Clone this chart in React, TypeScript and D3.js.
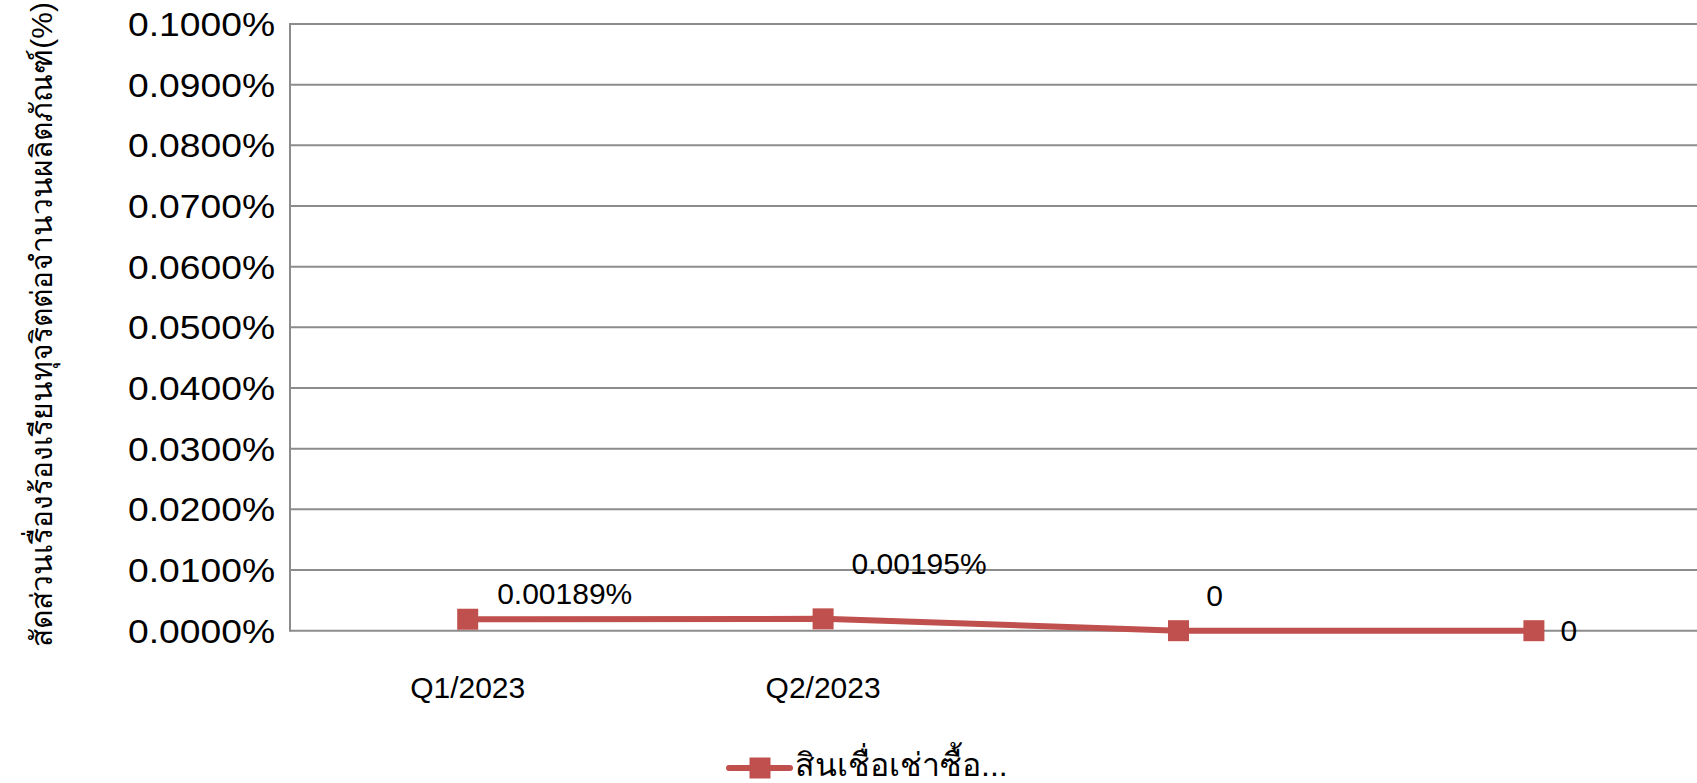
import React from "react";
import * as d3 from "d3";

const quarters = ["Q1/2023", "Q2/2023", "Q3/2023", "Q4/2023"];
const axisLabels = ["Q1/2023", "Q2/2023", "", ""];
const values = [0.00189, 0.00195, 0, 0];
const dataLabels = ["0.00189%", "0.00195%", "0", "0"];
const yTicks = [0, 0.01, 0.02, 0.03, 0.04, 0.05, 0.06, 0.07, 0.08, 0.09, 0.1];
const seriesName = "สินเชื่อเช่าซื้อ...";
const yTitle = "สัดส่วนเรื่องร้องเรียนทุจริตต่อจำนวนผลิตภัณฑ์(%)";

const labelOffsets: [number, number][] = [
  [97, -26],
  [96, -55],
  [36, -35],
  [35, 0],
];

const W = 1697;
const H = 783;
const left = 290;
const top = 24;
const bottom = 630.7;
const step = 355.4;
const color = "#C0504D";
const grid = "#8c8c8c";
const font = "'Liberation Sans', Arial, sans-serif";

export default function App() {
  const x = d3.scaleBand<string>().domain(quarters).range([left, left + step * quarters.length]);
  const y = d3.scaleLinear().domain([0, 0.1]).range([bottom, top]);
  const cx = (q: string) => (x(q) as number) + x.bandwidth() / 2;
  const line = d3
    .line<number>()
    .x((_, i) => cx(quarters[i]))
    .y((d) => y(d));
  const ms = 21;
  return (
    <div style={{ position: "fixed", left: 0, top: 0, width: W, height: H, background: "#fff" }}>
      <svg width={W} height={H} style={{ display: "block", fontFamily: font }}>
        <rect width={W} height={H} fill="#fff" />
        {yTicks.map((t) => (
          <line key={"g" + t} x1={left} x2={W} y1={y(t)} y2={y(t)} stroke={grid} strokeWidth={2} />
        ))}
        <line x1={left} x2={left} y1={top - 1} y2={bottom + 1} stroke={grid} strokeWidth={2} />
        {yTicks.map((t) => (
          <text
            key={"t" + t}
            x={275}
            y={y(t)}
            dy="0.35em"
            textAnchor="end"
            fontSize={34}
            textLength={147}
            lengthAdjust="spacingAndGlyphs"
            fill="#000"
          >
            {t.toFixed(4) + "%"}
          </text>
        ))}
        {quarters.map((q, i) => (
          <text key={q} x={cx(q)} y={698} textAnchor="middle" fontSize={30} fill="#000">
            {axisLabels[i]}
          </text>
        ))}
        <text
          transform={`translate(52, ${(top + bottom) / 2 - 3}) rotate(-90)`}
          textAnchor="middle"
          fontSize={30}
          fill="#000"
        >
          {yTitle}
        </text>
        <path d={line(values) || ""} fill="none" stroke={color} strokeWidth={6} strokeLinejoin="round" />
        {values.map((v, i) => (
          <rect
            key={"m" + i}
            x={cx(quarters[i]) - ms / 2}
            y={y(v) - ms / 2}
            width={ms}
            height={ms}
            fill={color}
          />
        ))}
        {values.map((v, i) => (
          <text
            key={"l" + i}
            x={cx(quarters[i]) + labelOffsets[i][0]}
            y={y(v) + labelOffsets[i][1]}
            dy="0.35em"
            textAnchor="middle"
            fontSize={30}
            fill="#000"
          >
            {dataLabels[i]}
          </text>
        ))}
        <g>
          <line x1={729} x2={790} y1={768} y2={768} stroke={color} strokeWidth={6} strokeLinecap="round" />
          <rect x={760 - ms / 2} y={768 - ms / 2} width={ms} height={ms} fill={color} />
          <text x={795} y={776} fontSize={32} fill="#000">
            {seriesName}
          </text>
        </g>
      </svg>
    </div>
  );
}
